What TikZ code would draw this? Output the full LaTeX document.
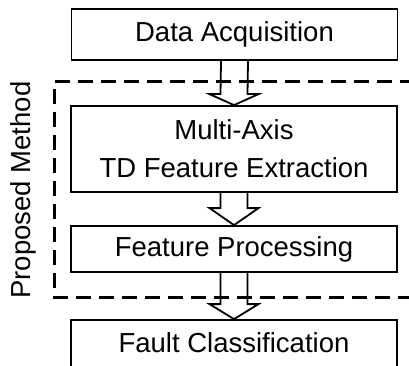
\documentclass[tikz,border=0pt]{standalone}
\usepackage{fontspec}
\setmainfont{Liberation Sans}
\usetikzlibrary{calc}
\tikzset{
  boxnode/.style={draw, line width=1.8pt, minimum width=326pt, inner sep=0pt, align=center,
    font=\fontsize{27.5}{38}\selectfont},
  blkarr/.style={draw, line width=1.8pt, line join=miter},
  dashbox/.style={line width=3pt, dash pattern=on 15pt off 8pt},
  lbl/.style={font=\fontsize{27.5}{33}\selectfont, rotate=90, inner sep=0pt}
}
\newcommand{\blockarr}[3]{%
  \draw[blkarr] ($(#1.south)+(-13.5,0)$) -- ($(#2.north)+(-13.5,-#3)$) -- ($(#2.north)+(-24.5,-#3)$)
    -- (#2.north) -- ($(#2.north)+(24.5,-#3)$) -- ($(#2.north)+(13.5,-#3)$) -- ($(#1.south)+(13.5,0)$);}
\begin{document}
\begin{tikzpicture}[x=1pt,y=-1pt]
\clip (0,0) rectangle (409,366);
\fill[white] (0,0) rectangle (409,366);
\node[boxnode, minimum height=51pt] (da) at (234.5,34.5) {Data Acquisition};
\node[boxnode, minimum height=86pt] (mf) at (234,149) {Multi-Axis\\TD Feature Extraction};
\node[boxnode, minimum height=46pt] (fp) at (234,249) {Feature Processing};
\node[boxnode, minimum height=54pt, text depth=0pt] (fc) at (234,347) {};
\node[font=\fontsize{27.5}{33}\selectfont, inner sep=0pt] (fct) at (234,343) {Fault Classification};
\blockarr{da}{mf}{11}
\blockarr{mf}{fp}{17}
\blockarr{fp}{fc}{15}
\coordinate (dtr) at (415,82);
\coordinate (dbr) at (415,297);
\draw[dashbox] (dtr) -- (54,82) -- (54,297) -- (dbr);
\node[lbl] (pm) at (23,190) {Proposed Method};
\end{tikzpicture}
\end{document}
